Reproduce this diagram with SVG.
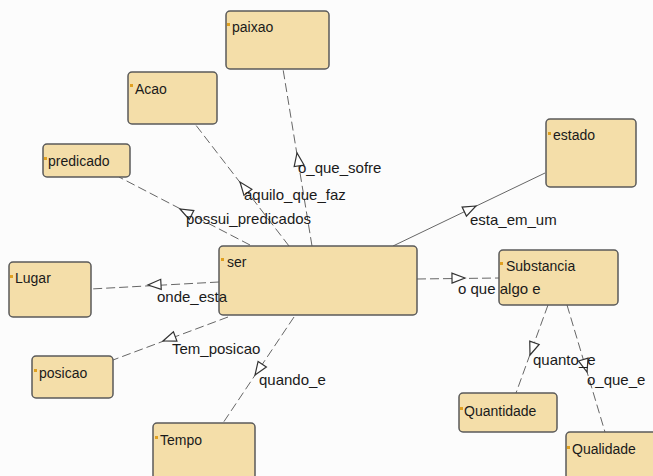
<svg xmlns="http://www.w3.org/2000/svg" xmlns:xlink="http://www.w3.org/1999/xlink" width="653" height="476" viewBox="0 0 653 476">
<style>
.node rect.box{fill:#f4dea9;stroke:#5a5a5a;stroke-width:1.5}
.node rect.dot{fill:#e0a020;stroke:none}
.node text{font-family:"Liberation Sans",Arial,sans-serif;font-size:14px;fill:#1a1a1a}
.edge line{stroke:#666;stroke-width:1;stroke-dasharray:9,4;fill:none}
.edge line.solid{stroke-dasharray:none}
.lbl{font-family:"Liberation Sans",Arial,sans-serif;font-size:15px;fill:#1a1a1a}
.arr{fill:#fff;stroke:#333;stroke-width:1.2}
</style>
<defs>
<path id="tri" d="M0,0 L-13,-5 L-13,5 Z"/>
</defs>
<rect width="653" height="476" fill="#fcfcfc"/>
<g id="edges" class="edge">
<line x1="312" y1="246" x2="283" y2="69"/>
<line x1="289" y1="246" x2="195" y2="124"/>
<line x1="250" y1="245" x2="119" y2="177"/>
<line class="solid" x1="393" y1="246" x2="545" y2="173"/>
<line x1="219" y1="282" x2="91" y2="289"/>
<line x1="228" y1="317" x2="113" y2="360"/>
<line x1="294" y1="317" x2="223" y2="423"/>
<line x1="417" y1="279" x2="499" y2="278"/>
<line x1="548" y1="305" x2="516" y2="393"/>
<line x1="567" y1="305" x2="605" y2="432"/>
<use xlink:href="#tri" class="arr" transform="translate(297,153) rotate(-99.3)"/>
<use xlink:href="#tri" class="arr" transform="translate(240,182) rotate(-127.6)"/>
<use xlink:href="#tri" class="arr" transform="translate(180,209) rotate(-152.6)"/>
<use xlink:href="#tri" class="arr" transform="translate(476,206) rotate(-25.6)"/>
<use xlink:href="#tri" class="arr" transform="translate(148,285) rotate(176.9)"/>
<use xlink:href="#tri" class="arr" transform="translate(163,341) rotate(159.5)"/>
<use xlink:href="#tri" class="arr" transform="translate(255,375) rotate(123.8)"/>
<use xlink:href="#tri" class="arr" transform="translate(465,278) rotate(-0.7)"/>
<use xlink:href="#tri" class="arr" transform="translate(530,355) rotate(110)"/>
<use xlink:href="#tri" class="arr" transform="translate(587,372) rotate(73.3)"/>
</g>
<g id="paixao" class="node"><rect class="box" x="226" y="11" width="103" height="58" rx="4"/><rect class="dot" x="227" y="23" width="3" height="3"/><text x="232" y="32">paixao</text></g>
<g id="Acao" class="node"><rect class="box" x="128" y="72" width="89" height="52" rx="4"/><rect class="dot" x="130" y="84" width="3" height="3"/><text x="135" y="94">Acao</text></g>
<g id="predicado" class="node"><rect class="box" x="43" y="144" width="87" height="33" rx="4"/><rect class="dot" x="44" y="157" width="3" height="3"/><text x="48" y="166">predicado</text></g>
<g id="estado" class="node"><rect class="box" x="546" y="119" width="90" height="68" rx="4"/><rect class="dot" x="548" y="132" width="3" height="3"/><text x="553" y="140">estado</text></g>
<g id="ser" class="node"><rect class="box" x="219" y="246" width="198" height="69" rx="4"/><rect class="dot" x="221" y="258" width="3" height="3"/><text x="227" y="267">ser</text></g>
<g id="Lugar" class="node"><rect class="box" x="9" y="262" width="82" height="55" rx="4"/><rect class="dot" x="10" y="275" width="3" height="3"/><text x="15" y="283">Lugar</text></g>
<g id="posicao" class="node"><rect class="box" x="32" y="356" width="81" height="42" rx="4"/><rect class="dot" x="34" y="369" width="3" height="3"/><text x="39" y="378">posicao</text></g>
<g id="Tempo" class="node"><rect class="box" x="153" y="423" width="102" height="70" rx="4"/><rect class="dot" x="155" y="436" width="3" height="3"/><text x="160" y="445">Tempo</text></g>
<g id="Substancia" class="node"><rect class="box" x="499" y="250" width="119" height="55" rx="4"/><rect class="dot" x="500" y="262" width="3" height="3"/><text x="506" y="271">Substancia</text></g>
<g id="Quantidade" class="node"><rect class="box" x="459" y="393" width="98" height="39" rx="4"/><rect class="dot" x="460" y="407" width="3" height="3"/><text x="464" y="416">Quantidade</text></g>
<g id="Qualidade" class="node"><rect class="box" x="566" y="432" width="100" height="60" rx="4"/><rect class="dot" x="567" y="446" width="3" height="3"/><text x="572" y="454">Qualidade</text></g>
<g id="labels">
<text class="lbl" x="298" y="173">o_que_sofre</text>
<text class="lbl" x="244" y="200">aquilo_que_faz</text>
<text class="lbl" x="186" y="224">possui_predicados</text>
<text class="lbl" x="470" y="225">esta_em_um</text>
<text class="lbl" x="157" y="302">onde_esta</text>
<text class="lbl" x="172" y="354">Tem_posicao</text>
<text class="lbl" x="259" y="385">quando_e</text>
<text class="lbl" x="458" y="294">o que algo e</text>
<text class="lbl" x="533" y="365">quanto_e</text>
<text class="lbl" x="587" y="385">o_que_e</text>
</g>
</svg>
